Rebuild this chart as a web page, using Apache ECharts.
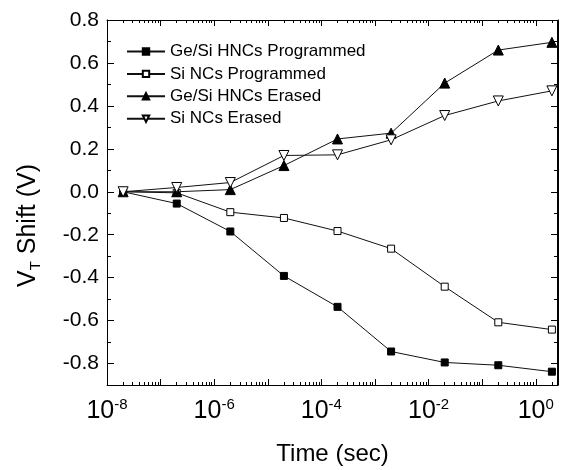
<!DOCTYPE html>
<html><head><meta charset="utf-8">
<script src="https://cdn.jsdelivr.net/npm/echarts@6/dist/echarts.min.js"></script>
<style>html,body{margin:0;padding:0;background:#fff;overflow:hidden}#c{width:564px;height:470px}</style>
</head><body><div id="c"></div>
<script>
// ---- data ----
const times = [2e-8, 2e-7, 2e-6, 2e-5, 2e-4, 2e-3, 2e-2, 2e-1, 2e0];
const geSiProgrammed = [0, -0.055, -0.185, -0.392, -0.536, -0.744, -0.795, -0.808, -0.838];
const siProgrammed   = [0, -0.005, -0.095, -0.122, -0.183, -0.265, -0.442, -0.608, -0.642];
const geSiErased     = [0, 0.0, 0.01, 0.122, 0.246, 0.273, 0.506, 0.66, 0.696];
const siErased       = [0, 0.02, 0.043, 0.169, 0.172, 0.242, 0.355, 0.423, 0.47];
const seriesNames = ['Ge/Si HNCs Programmed', 'Si NCs Programmed', 'Ge/Si HNCs Erased', 'Si NCs Erased'];
const xMajorTicks = [1e-8, 1e-7, 1e-6, 1e-5, 1e-4, 1e-3, 1e-2, 1e-1, 1e0];
const xLabelTicks = [1e-8, 1e-6, 1e-4, 1e-2, 1e0];
const yMajorTicks = [-0.8, -0.6, -0.4, -0.2, 0, 0.2, 0.4, 0.6, 0.8];
const yMinorTicks = [-0.9, -0.7, -0.5, -0.3, -0.1, 0.1, 0.3, 0.5, 0.7];
const xMin = 1e-8, xMax = 2.6, yMin = -0.9, yMax = 0.8;

const xMinorTicks = [];
xMajorTicks.forEach(d => { for (let k = 2; k <= 9; k++) { const v = k * d; if (v <= xMax) xMinorTicks.push(v); } });

const FONT = '"Liberation Sans", Arial, sans-serif';
const black = 'black';

function pairs(ys) { return times.map((t, i) => [t, ys[i]]); }

function xAx(pos, ticks, len, showLine, labels) {
  return {
    type: 'log', position: pos, min: xMin, max: xMax, z: 10,
    axisLine: { show: showLine, onZero: false, lineStyle: { color: black } },
    axisTick: { show: true, inside: true, length: len, customValues: ticks.slice(), lineStyle: { color: black } },
    axisLabel: labels ? {
      show: true, customValues: xLabelTicks.slice(), margin: 12, color: black,
      formatter: v => '{b|10}{s|' + Math.round(Math.log10(v)) + '}',
      rich: {
        b: { fontFamily: FONT, fontSize: 25, color: black, lineHeight: 28 },
        s: { fontFamily: FONT, fontSize: 15, color: black, verticalAlign: 'top', lineHeight: 15 }
      }
    } : { show: false, color: black },
    splitLine: { show: false }
  };
}
function yAx(pos, ticks, len, showLine, labels) {
  return {
    type: 'value', position: pos, min: yMin, max: yMax, interval: 0.1, z: 10,
    axisLine: { show: showLine, onZero: false, lineStyle: { color: black } },
    axisTick: { show: true, inside: true, length: len, customValues: ticks.slice(), lineStyle: { color: black } },
    axisLabel: labels ? {
      show: true, customValues: yMajorTicks.slice(), margin: 8,
      fontFamily: FONT, fontSize: 21, color: black,
      formatter: v => (Math.abs(v) < 1e-9 ? 0 : v).toFixed(1)
    } : { show: false, color: black },
    splitLine: { show: false }
  };
}

const xAxes = [
  xAx('bottom', xMajorTicks, 6, true, true),
  xAx('bottom', xMinorTicks, 3, false, false),
  xAx('top', xMajorTicks, 6, true, false),
  xAx('top', xMinorTicks, 3, false, false)
];
xAxes[0].name = 'Time (sec)';
xAxes[0].nameLocation = 'middle';
xAxes[0].nameGap = 57;
xAxes[0].nameTextStyle = { fontFamily: FONT, fontSize: 24, color: black };

const yAxes = [
  yAx('left', yMajorTicks, 7, true, true),
  yAx('left', yMinorTicks, 4, false, false),
  yAx('right', yMajorTicks, 7, true, false),
  yAx('right', yMinorTicks, 4, false, false)
];
yAxes[0].name = '{a|V}{t|T}{a| Shift (V)}';
yAxes[0].nameLocation = 'middle';
yAxes[0].nameRotate = 90;
yAxes[0].nameGap = 64;
yAxes[0].nameTextStyle = {
  padding: [0, 46, 0, 0],
  rich: {
    a: { fontFamily: FONT, fontSize: 25, color: black, lineHeight: 30 },
    t: { fontFamily: FONT, fontSize: 15, color: black, verticalAlign: 'bottom', lineHeight: 15 }
  }
};

const lineStyle = { color: '#111', width: 1 };
const styles = [
  { symbol: 'rect', symbolSize: 7, itemStyle: { color: black, borderColor: black, borderWidth: 1 } },
  { symbol: 'rect', symbolSize: 7, itemStyle: { color: '#fff', borderColor: black, borderWidth: 1 } },
  { symbol: 'triangle', symbolSize: 10, itemStyle: { color: black, borderColor: black, borderWidth: 1 } },
  { symbol: 'triangle', symbolSize: 10, symbolRotate: 180, itemStyle: { color: '#fff', borderColor: black, borderWidth: 1 } }
];
const dataSets = [geSiProgrammed, siProgrammed, geSiErased, siErased];

const series = seriesNames.map((n, i) => Object.assign({
  name: n, type: 'line', xAxisIndex: 0, yAxisIndex: 0,
  data: pairs(dataSets[i]), lineStyle: lineStyle, showSymbol: true
}, styles[i]));

const chart = echarts.init(document.getElementById('c'));
chart.setOption({
  animation: false,
  grid: { left: 107, right: 6, top: 20, bottom: 85, outerBoundsMode: 'none' },
  legend: {
    orient: 'vertical', left: 121, top: 38, itemWidth: 38, itemHeight: 8, itemGap: 5.4,
    textStyle: { fontFamily: FONT, fontSize: 17, color: black, lineHeight: 14 },
    data: seriesNames
  },
  xAxis: xAxes,
  yAxis: yAxes,
  series: series
});

// plot frame, placed through the library's own scales
const tl = chart.convertToPixel({ gridIndex: 0 }, [xMin, yMax]);
const br = chart.convertToPixel({ gridIndex: 0 }, [xMax, yMin]);
if (tl && br) {
  const x0 = Math.round(tl[0]) + 0.5, y0 = Math.round(tl[1]) + 0.5;
  const x1 = Math.round(br[0]) - 0.5, y1 = Math.round(br[1]) + 0.5;
  chart.setOption({
    graphic: [{
      type: 'polyline', z: 100, silent: true,
      shape: { points: [[x0, y1], [x0, y0], [x1, y0], [x1, y1], [x0, y1]] },
      style: { stroke: '#000', lineWidth: 1, fill: null }
    }]
  });
}
</script></body></html>
